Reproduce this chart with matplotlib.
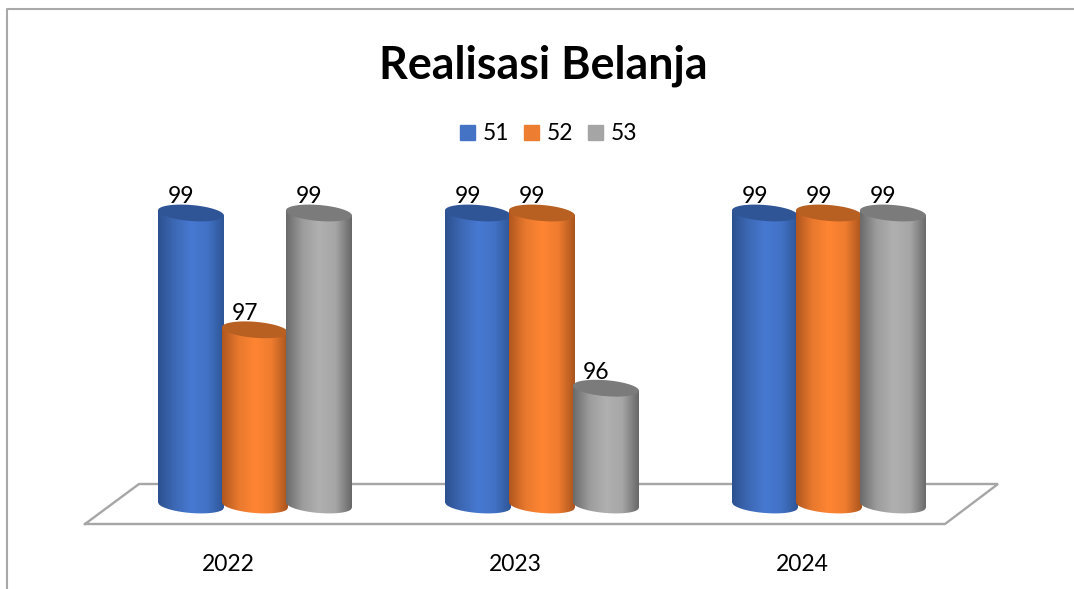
import numpy as np
import matplotlib
matplotlib.use("Agg")
import matplotlib.pyplot as plt
from matplotlib.colors import LinearSegmentedColormap
from matplotlib.lines import Line2D
from matplotlib.patches import Patch, Polygon

# ---- data ----
years = ["2022", "2023", "2024"]
series_names = ["51", "52", "53"]
values_51 = [99, 99, 99]
values_52 = [97, 99, 99]
values_53 = [99, 96, 99]
all_values = [values_51, values_52, values_53]

title_text = "Realisasi Belanja"
legend_colors = ["#4472C4", "#ED7D31", "#A5A5A5"]
side_stops = [
    ["#2C5190", "#3D68B4", "#4779D2", "#4272C6", "#2E5596"],
    ["#B0561E", "#E8792E", "#FF8533", "#EF7C2F", "#A9541E"],
    ["#6A6A6A", "#9C9C9C", "#B0B0B0", "#A6A6A6", "#676767"],
]
cap_colors = ["#2F5597", "#B85F22", "#7B7B7B"]

W, H = 1074, 589
FONT = "Lato"
fig = plt.figure(figsize=(W / 100, H / 100), dpi=100)
fig.patch.set_facecolor("white")

# axes: pixel box x 85..945, y 213 (value 99)..505 (value 94)
ax = fig.add_axes([85 / W, 1 - 505 / H, 860 / W, 292 / H])
ax.patch.set_visible(False)
GROUP_PX = 287.0
ax_xlim = ((85 - 255) / GROUP_PX, (945 - 255) / GROUP_PX)
ax_ylim = (94, 99)
PX_X = 1 / GROUP_PX
PX_Y = 5 / 292.0


def pxline(xs, ys, **kw):
    ax.add_line(Line2D(np.array(xs) / W, 1 - np.array(ys) / H, transform=fig.transFigure,
                       clip_on=False, **kw))


# chart frame
pxline([7.5, 7.5, 1074], [589, 9, 9], color="#A9A9A9", lw=1.5, zorder=0)
# floor
pxline([85, 945, 998, 139, 85], [524, 524, 484, 484, 524], color="#A6A6A6", lw=1.7,
       zorder=0, solid_joinstyle="miter")

BAR_W = 66 * PX_X
STEP = 64 * PX_X
RY = 8 * PX_Y
SHEAR = 2.6 * PX_Y
t = np.linspace(0, 2 * np.pi, 121)


def cylinder(xc, val, i, z):
    left, right = xc - BAR_W / 2, xc + BAR_W / 2
    cmap = LinearSegmentedColormap.from_list("c", side_stops[i])
    u = np.linspace(-1, 1, 61)
    bottom = ax_ylim[0] - np.sqrt(1 - u ** 2) * RY - u * SHEAR
    top = val - u * SHEAR
    xs = xc + u * BAR_W / 2
    outline = np.vstack([np.c_[xs, bottom], np.c_[xs[::-1], top[::-1]]])
    im = ax.imshow(np.linspace(0, 1, 256)[None, :], cmap=cmap, aspect="auto",
                   extent=[left, right, ax_ylim[0] - 3 * RY, val + 3 * RY], zorder=z)
    clip = Polygon(outline, closed=True, transform=ax.transData, facecolor="none", edgecolor="none")
    ax.add_patch(clip)
    im.set_clip_path(clip)
    im.set_clip_box(fig.bbox)
    cap = np.c_[xc + np.cos(t) * BAR_W / 2,
                val + np.sin(t) * RY - np.cos(t) * SHEAR]
    ax.add_patch(Polygon(cap, closed=True, facecolor=cap_colors[i], edgecolor="none",
                         zorder=z + 0.1, clip_on=False))
    ax.text(xc - 10 * PX_X, val + 16 * PX_Y, str(val), ha="center", va="center", fontsize=16.5,
            family=FONT, color="black", zorder=50)


for g in range(len(years)):
    for i, vals in enumerate(all_values):
        cylinder(g + (i - 1) * STEP, vals[g], i, 3 + g * 3 + i)

ax.set_xlim(*ax_xlim)
ax.set_ylim(*ax_ylim)
ax.set_xticks(np.arange(len(years)) - 27 * PX_X)
ax.set_xticklabels(years, family=FONT, fontsize=16.5, color="black")
ax.tick_params(axis="x", length=0, pad=35.5)
ax.set_yticks([])
for s in ax.spines.values():
    s.set_visible(False)

ax.set_title(title_text, family=FONT, fontsize=32.2, fontweight="bold", pad=97, x=(543 - 85) / 860)

handles = [Patch(color=c, label=n) for c, n in zip(legend_colors, series_names)]
ax.legend(handles=handles, ncol=3, loc="center", bbox_to_anchor=(548.5 / W, 1 - 134 / H),
          bbox_transform=fig.transFigure, frameon=False, handlelength=0.65, handleheight=0.65,
          handletextpad=0.35, columnspacing=0.64,
          prop={"family": FONT, "size": 16.5})

fig.savefig("out.png", dpi=100, facecolor="white")
